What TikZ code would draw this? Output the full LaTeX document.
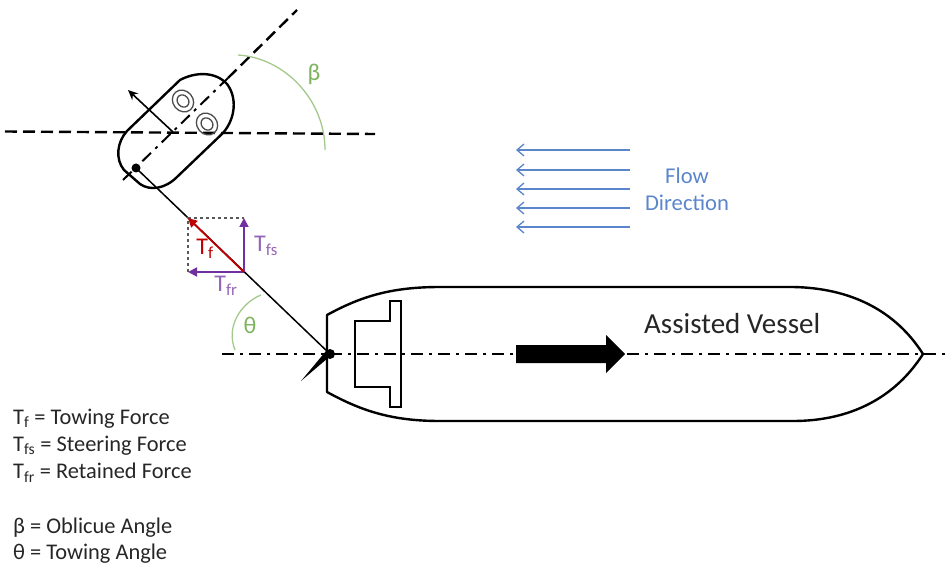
\documentclass[tikz,border=0pt]{standalone}
\usepackage{fontspec}
\usepackage{xcolor}
\setmainfont{Carlito}
\usetikzlibrary{arrows.meta}

\definecolor{flowblue}{HTML}{5B86CC}
\definecolor{anglegreen}{HTML}{A4C98C}
\definecolor{labelgreen}{HTML}{7DB35C}
\definecolor{forcepurple}{HTML}{7030A0}
\definecolor{forcered}{HTML}{C00000}

\tikzset{
  hull/.style={line width=2.4pt,line join=round},
  centreline/.style={line width=2.4pt,dash pattern=on 12pt off 6pt on 3pt off 6pt},
  refline/.style={line width=2.4pt,dash pattern=on 12pt off 6pt},
  flowarrow/.style={flowblue,line width=1.3pt,-{Straight Barb[length=7pt,width=12pt]}},
  forcearrow/.style={forcepurple,line width=1.8pt,-{Triangle[length=9pt,width=9pt]}},
  anglearc/.style={anglegreen,line width=1.3pt},
  legendtext/.style={black!85,anchor=west,font=\fontsize{22.4}{26}\selectfont,inner sep=0pt},
  bluetext/.style={flowblue,font=\fontsize{22.6}{26}\selectfont,inner sep=0pt},
  forcetext/.style={font=\fontsize{24}{28}\selectfont,inner sep=0pt}
}

\begin{document}
\begin{tikzpicture}[x=1pt,y=-1pt]
  \useasboundingbox (0,0) rectangle (948,564);

  % tug
  \coordinate (towpoint) at (136,168);
  \coordinate (tugmid) at (173,132);
  \coordinate (tugfront) at (128,90);
  \coordinate (tugaxisa) at (123,180);
  \coordinate (tugaxisb) at (228,78);
  \coordinate (tugaxisc) at (297,10);
  \draw[refline] (5,131.5) -- (375,134);
  \draw[centreline,line width=2pt] (tugaxisa) -- (tugaxisb);
  \draw[refline] (tugaxisb) -- (tugaxisc);
  \draw[hull] (127,131) -- (180,80) .. controls (195,72) and (215,71) .. (227,84)
    .. controls (237,97) and (236,118) .. (223,133) -- (177,177)
    .. controls (165,189) and (150,191) .. (140,184) -- (124,170)
    .. controls (115,159) and (117,142) .. (127,131);
  \foreach \cx/\cy in {183/101,207/124} {
    \draw[black!70,line width=1.3pt,rotate around={40:(\cx,\cy)}] (\cx,\cy) ellipse (10 and 11.5);
    \draw[black!70,line width=1.3pt,rotate around={40:(\cx,\cy)}] (\cx,\cy) ellipse (5.5 and 6.5);
  }
  \draw[line width=1.6pt,-{Stealth[length=10pt,width=9pt]}] (tugmid) -- (tugfront);
  \fill (towpoint) circle (4.5);

  % assisted vessel
  \coordinate (sternpoint) at (330,354);
  \coordinate (rudderend) at (301,381);
  \draw[centreline] (222,354) -- (948,354);
  \draw[hull] (327,315) .. controls (360,297) and (390,287) .. (440,287) -- (793,287)
    .. controls (850,288) and (895,310) .. (923,354)
    .. controls (895,398) and (850,421) .. (793,421) -- (440,421)
    .. controls (390,421) and (360,410) .. (327,392) -- cycle;
  \draw[line width=2pt,line join=miter] (355,321) -- (390,321) -- (390,301) -- (401,301)
    -- (401,407) -- (390,407) -- (390,387) -- (355,387) -- cycle;
  \fill (516,345) -- (606,345) -- (606,335) -- (625,354) -- (606,373) -- (606,363) -- (516,363) -- cycle;
  \fill (rudderend) -- (326,351) -- (333,354) -- (328,358) -- cycle;
  \fill (sternpoint) circle (5);
  \node[anchor=west,inner sep=0pt,black!85,font=\fontsize{29}{33}\selectfont] (vessellabel) at (644,324) {Assisted Vessel};

  % tow line and forces
  \coordinate (forceorigin) at (244,272);
  \coordinate (tfend) at (188,218);
  \coordinate (tfsend) at (244,218);
  \coordinate (tfrend) at (188,272);
  \draw[line width=1.5pt] (towpoint) -- (sternpoint);
  \draw[black!65,line width=1.1pt,dashed] (tfrend) -- (tfend) -- (tfsend);
  \draw[forcearrow] (forceorigin) -- (tfsend);
  \draw[forcearrow] (forceorigin) -- (tfrend);
  \draw[forcered,line width=1.8pt,-{Triangle[length=9pt,width=9pt]}] (forceorigin) -- (tfend);
  \node[forcetext,forcered] (tflabel) at (205,249) {T\textsubscript{f}};
  \node[forcetext,forcepurple!75] (tfslabel) at (266,246) {T\textsubscript{fs}};
  \node[forcetext,forcepurple!75] (tfrlabel) at (226,286) {T\textsubscript{fr}};

  % angles
  \draw[anglearc] (238,55) .. controls (285,58) and (325,100) .. (325,150);
  \draw[anglearc] (261,295) .. controls (243,302) and (225,325) .. (235,350);
  \node[forcetext,labelgreen] (betalabel) at (314,74) {β};
  \node[forcetext,labelgreen] (thetalabel) at (250,325) {θ};

  % flow
  \foreach \fy in {150,170,189,208,227}
    \draw[flowarrow] (630,\fy) -- (516,\fy);
  \node[bluetext] (flowlabel) at (687,176) {Flow};
  \node[bluetext] (directionlabel) at (687,203) {Direction};

  % legend
  \node[legendtext] (legenda) at (13,418.5) {T\textsubscript{f} = Towing Force};
  \node[legendtext] (legendb) at (13,445.5) {T\textsubscript{fs} = Steering Force};
  \node[legendtext] (legendc) at (13,472.5) {T\textsubscript{fr} = Retained Force};
  \node[legendtext] (legendd) at (13,527.5) {β = Oblicue Angle};
  \node[legendtext] (legende) at (13,553.5) {θ = Towing Angle};
\end{tikzpicture}
\end{document}
